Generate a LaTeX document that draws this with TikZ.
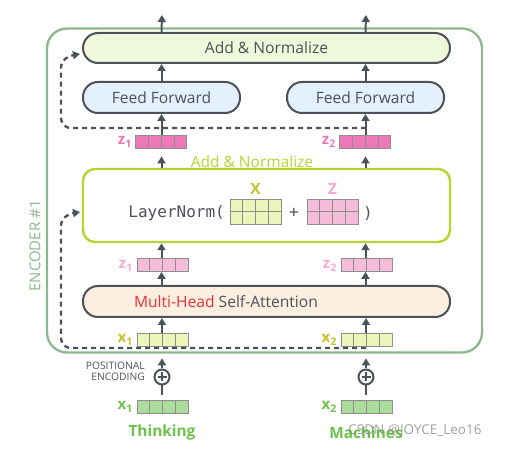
\documentclass[tikz,border=0pt]{standalone}
\usepackage{fontspec}
\setmainfont{Open Sans}
\newfontfamily\monof{DejaVu Sans Mono}
\usetikzlibrary{arrows.meta,calc}
\definecolor{dgray}{HTML}{4D5159}
\definecolor{encg}{HTML}{8CB88C}
\definecolor{addfill}{HTML}{EFF8D8}
\definecolor{fffill}{HTML}{E4F0FB}
\definecolor{lnlime}{HTML}{B6D52E}
\definecolor{zmag}{HTML}{EC78B8}
\definecolor{zpink}{HTML}{F5BCD9}
\definecolor{zlab}{HTML}{F3A9CF}
\definecolor{xyel}{HTML}{ECF6BB}
\definecolor{xlab}{HTML}{C5C22A}
\definecolor{xgreen}{HTML}{ACDC9C}
\definecolor{tgreen}{HTML}{6CC24A}
\definecolor{mhsafill}{HTML}{FDEFE0}
\definecolor{mhred}{HTML}{E8333A}
\definecolor{cellb}{HTML}{8E8E8E}
\tikzset{
  bigbox/.style={draw=dgray, line width=2pt, rounded corners=15pt, inner sep=0pt, minimum height=30pt, font=\fontsize{15.6}{18}\selectfont, text=dgray},
  cellrow/.style={draw=cellb, line width=0.8pt, minimum width=51pt, minimum height=13pt, inner sep=0pt},
  cellline/.style={draw=cellb, line width=0.8pt},
  arr/.style={draw=dgray, line width=2pt, -{Triangle[width=8pt,length=7pt]}},
  resid/.style={draw=dgray, line width=2.3pt, dash pattern=on 5pt off 4pt, -{Triangle[width=8pt,length=7pt]}},
  lab/.style={anchor=east, font=\fontsize{15}{16}\selectfont\bfseries, inner sep=0pt},
}
\newcommand{\cellrowat}[4]{%
  \node[cellrow, fill=#4] (#1) at (#2,#3) {};
  \foreach \k in {1,2,3} {\draw[cellline] ($(#1.south west)!\k/4!(#1.south east)$) -- ($(#1.north west)!\k/4!(#1.north east)$);}
}
\begin{document}
\begin{tikzpicture}[x=1pt,y=-1pt]
\useasboundingbox (0,0) rectangle (515,449);
% encoder frame
\node[draw=encg, line width=2.3pt, rounded corners=20pt, minimum width=435pt, minimum height=324pt, inner sep=0pt] (enc) at (264.5,190.5) {};
\node[rotate=90, text=encg, font=\fontsize{15}{16}\selectfont] (enclab) at (35,246) {ENCODER \#1};
% boxes
\node[bigbox, fill=addfill, minimum width=367pt] (addtop) at (266.5,48) {Add \& Normalize};
\node[bigbox, fill=fffill, minimum width=157pt, minimum height=31pt] (ff1) at (161.5,97.5) {Feed Forward};
\node[bigbox, fill=fffill, minimum width=157pt, minimum height=31pt] (ff2) at (365.5,97.5) {Feed Forward};
\node[draw=lnlime, line width=2.4pt, rounded corners=12pt, fill=white, minimum width=367pt, minimum height=73pt, inner sep=0pt] (ln) at (266.5,205.5) {};
\node[bigbox, fill=mhsafill, minimum width=367pt, minimum height=31pt] (mhsa) at (266.5,301.5) {};
\node[font=\fontsize{15.6}{18}\selectfont, text=dgray, inner sep=0pt] (mhsat) at (226,301.5) {\textcolor{mhred}{Multi-Head} Self-Attention};
\node[text=lnlime, font=\fontsize{15.5}{17}\selectfont] (addmid) at (252,162) {Add \& Normalize};
% vectors
\cellrowat{z1u}{161}{141.5}{zmag}
\cellrowat{z2u}{365}{141.5}{zmag}
\node[lab, text=zmag] (z1ul) at (132,142) {z\textsubscript{1}};
\node[lab, text=zmag] (z2ul) at (336,142) {z\textsubscript{2}};
\cellrowat{z1l}{162.5}{265}{zpink}
\cellrowat{z2l}{366.5}{265}{zpink}
\node[lab, text=zlab] (z1ll) at (133,266) {z\textsubscript{1}};
\node[lab, text=zlab] (z2ll) at (337,266) {z\textsubscript{2}};
\cellrowat{x1i}{162.5}{339.5}{xyel}
\cellrowat{x2i}{366.5}{339.5}{xyel}
\node[lab, text=xlab] (x1il) at (133,340) {x\textsubscript{1}};
\node[lab, text=xlab] (x2il) at (337,340) {x\textsubscript{2}};
\cellrowat{x1b}{162.5}{406.5}{xgreen}
\cellrowat{x2b}{366.5}{406.5}{xgreen}
\node[lab, text=tgreen] (x1bl) at (133,407) {x\textsubscript{1}};
\node[lab, text=tgreen] (x2bl) at (337,407) {x\textsubscript{2}};
% LayerNorm content
\node[font=\monof\fontsize{16}{18}\selectfont, text=dgray, anchor=east, inner sep=0pt] (lnt) at (225,213) {LayerNorm(};
\node[cellrow, fill=xyel, minimum height=25pt] (mx) at (255.5,211.5) {};
\node[cellrow, fill=zpink, minimum height=25pt] (mz) at (332.5,211.5) {};
\foreach \m in {mx,mz} {
  \foreach \k in {1,2,3} {\draw[cellline] ($(\m.south west)!\k/4!(\m.south east)$) -- ($(\m.north west)!\k/4!(\m.north east)$);}
  \draw[cellline] (\m.west) -- (\m.east);
}
\node[font=\monof\fontsize{16}{18}\selectfont, text=dgray, inner sep=0pt] (plust) at (294,213) {+};
\node[font=\monof\fontsize{16}{18}\selectfont, text=dgray, inner sep=0pt] (rpar) at (368,213) {)};
\node[text=xlab, font=\fontsize{15.5}{17}\selectfont\bfseries] (xl) at (255.5,189) {X};
\node[text=zlab, font=\fontsize{15.5}{17}\selectfont\bfseries] (zl) at (332.5,189) {Z};
% positional encoding
\node[draw=dgray, line width=2pt, circle, minimum size=15pt, inner sep=0pt] (p1) at (162,377) {};
\node[draw=dgray, line width=2pt, circle, minimum size=15pt, inner sep=0pt] (p2) at (366,377) {};
\foreach \p in {p1,p2} {\draw[dgray, line width=2pt] ($(\p.center)+(-4.5,0)$) -- ($(\p.center)+(4.5,0)$) ($(\p.center)+(0,-4.5)$) -- ($(\p.center)+(0,4.5)$);}
\node[anchor=east, align=right, text=dgray, font=\fontsize{10.3}{11}\selectfont, inner sep=0pt] (posenc) at (145,371.5) {POSITIONAL\\ENCODING};
% words
\node[text=tgreen, font=\fontsize{15.4}{17}\selectfont\bfseries] (w1) at (162,433) {Thinking};
\node[text=tgreen, font=\fontsize{15.4}{17}\selectfont\bfseries] (w2) at (366,433) {Machines};
\node[text=gray, opacity=0.75, font=\fontsize{13.5}{15}\selectfont] (wm) at (415,431) {CSDN @JOYCE\_Leo16};
% coordinates
\coordinate (o1) at (162,15);
\coordinate (o2) at (366,15);
% arrows
\draw[arr] (addtop.north -| ff1.center) -- (o1);
\draw[arr] (addtop.north -| ff2.center) -- (o2);
\draw[arr] (ff1.north) -- (ff1.north |- addtop.south);
\draw[arr] (ff2.north) -- (ff2.north |- addtop.south);
\draw[arr] (z1u.north -| ff1.center) -- (ff1.south);
\draw[arr] (z2u.north -| ff2.center) -- (ff2.south);
\draw[arr, shorten >=8pt] (ln.north -| ff1.center) -- (ff1.center |- z1u.south);
\draw[arr, shorten >=8pt] (ln.north -| ff2.center) -- (ff2.center |- z2u.south);
\draw[arr] (z1l.north -| ff1.center) -- (ln.south -| ff1.center);
\draw[arr] (z2l.north -| ff2.center) -- (ln.south -| ff2.center);
\draw[arr] (mhsa.north -| ff1.center) -- (ff1.center |- z1l.south);
\draw[arr] (mhsa.north -| ff2.center) -- (ff2.center |- z2l.south);
\draw[arr] (x1i.north -| p1.center) -- (mhsa.south -| p1.center);
\draw[arr] (x2i.north -| p2.center) -- (mhsa.south -| p2.center);
\draw[arr, shorten >=12pt] (p1.north) -- (p1.center |- x1i.south);
\draw[arr, shorten >=12pt] (p2.north) -- (p2.center |- x2i.south);
\draw[dgray, line width=2pt, shorten <=5pt] (p1.center |- x1b.north) -- (p1.south);
\draw[dgray, line width=2pt, shorten <=5pt] (p2.center |- x2b.north) -- (p2.south);
% residual connections
\coordinate (r1s) at (366,128);
\coordinate (r1e) at (80,54);
\coordinate (r2s) at (366,348);
\coordinate (r2e) at (80,212);
\draw[resid] (r1s) -- (72,128) .. controls (64,128) and (61,124) .. (61,116) -- (61,68) .. controls (61,60) and (68,56) .. (r1e);
\draw[resid] (r2s) -- (72,348) .. controls (64,348) and (61,344) .. (61,336) -- (61,226) .. controls (61,218) and (68,214) .. (r2e);
\end{tikzpicture}
\end{document}
